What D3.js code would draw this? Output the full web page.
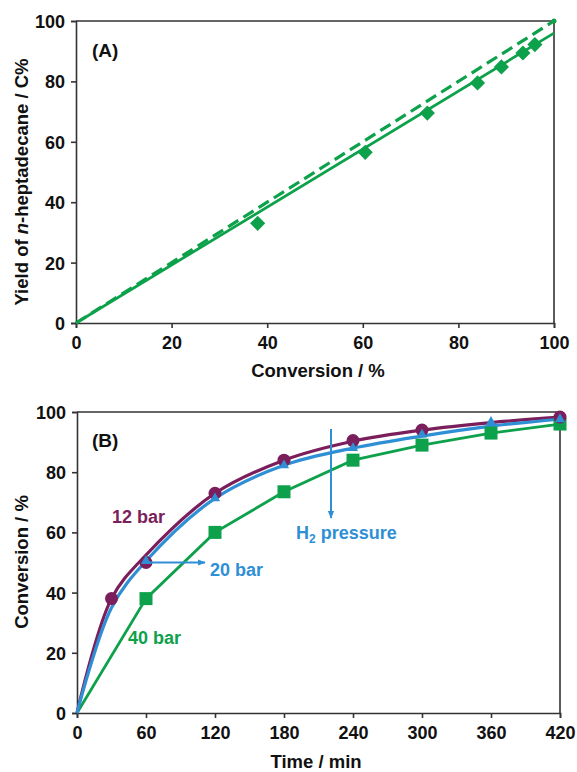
<!DOCTYPE html>
<html>
<head>
<meta charset="utf-8">
<script src="https://cdn.jsdelivr.net/npm/d3@7"></script>
<style>
  body { margin: 0; background: #fff; }
  text { font-family: "Liberation Sans", Arial, sans-serif; font-weight: bold; }
</style>
</head>
<body>
<div id="chart"></div>
<script>
// panel A data: conversion (%) vs yield (C%)
var convA = [38, 60.5, 73.5, 84, 89, 93.5, 96];
var yieldA = [33, 56.5, 69.5, 79.5, 84.8, 89.4, 92.2];
var fitA = [[0, 0], [100, 96]];     // solid fit line
var idealA = [[0, 0], [100, 100]];  // dashed 1:1 line
var ticksA = [0, 20, 40, 60, 80, 100];

// panel B data: time (min) vs conversion (%)
var time12 = [30, 60, 120, 180, 240, 300, 420];
var conv12 = [38, 50, 73, 84, 90.5, 94, 98.3];
var time20 = [60, 120, 180, 240, 300, 360, 420];
var conv20 = [50.5, 71.3, 82.3, 88, 92.5, 96.7, 97.6];
var time40 = [60, 120, 180, 240, 300, 360, 420];
var conv40 = [38, 60, 73.5, 84, 89, 93, 96];
// fitted curves
var fitTime = [0, 30, 60, 120, 180, 240, 300, 360, 420];
var fit12 = [0, 38, 52.5, 73, 84, 90.3, 94, 96.5, 98.3];
var fit20 = [0, 35, 50.5, 71.3, 82.3, 88, 92, 95.3, 97.6];
var fitTime40 = [0, 60, 120, 180, 240, 300, 360, 420];
var fit40 = [0, 38, 60, 73.5, 84, 89, 93, 96];
var ticksBx = [0, 60, 120, 180, 240, 300, 360, 420];
var ticksBy = [0, 20, 40, 60, 80, 100];

var green = "#0ea14b", purple = "#7b1f5c", blue = "#2f8fd5", axisCol = "#333";

var svg = d3.select("#chart").append("svg")
  .attr("width", 577).attr("height", 772);

var defs = svg.append("defs");
defs.append("marker").attr("id", "arr").attr("viewBox", "0 0 10 10")
  .attr("refX", 9).attr("refY", 5).attr("markerWidth", 4).attr("markerHeight", 4)
  .attr("orient", "auto")
  .append("path").attr("d", "M0,1 L10,5 L0,9 z").attr("fill", blue);

function drawAxes(x, y, xt, yt) {
  var r = x.range(), b = y.range();
  svg.append("g").attr("transform", "translate(0," + b[0] + ")")
    .call(d3.axisBottom(x).tickValues(xt).tickSize(5).tickPadding(8))
    .call(g => g.selectAll("text").style("font-size", "18px").attr("fill", "#111"));
  svg.append("g").attr("transform", "translate(" + r[0] + ",0)")
    .call(d3.axisLeft(y).tickValues(yt).tickSize(5).tickPadding(6))
    .call(g => g.selectAll("text").style("font-size", "18px").attr("fill", "#111").attr("dy", "0.36em"));
  svg.selectAll(".domain, .tick line").attr("stroke", axisCol).attr("stroke-width", 1.6);
  // top and right frame
  svg.append("path")
    .attr("d", "M" + r[0] + "," + b[1] + "H" + r[1] + "V" + b[0])
    .attr("fill", "none").attr("stroke", axisCol).attr("stroke-width", 1.6);
}

// PANEL A
var xA = d3.scaleLinear().domain([0, 100]).range([76, 554]);
var yA = d3.scaleLinear().domain([0, 100]).range([323, 21]);
drawAxes(xA, yA, ticksA, ticksA);

var lineA = d3.line().x(d => xA(d[0])).y(d => yA(d[1]));
svg.append("path").attr("d", lineA(idealA)).attr("fill", "none")
  .attr("stroke", green).attr("stroke-width", 3.2).attr("stroke-dasharray", "12,6");
svg.append("path").attr("d", lineA(fitA)).attr("fill", "none")
  .attr("stroke", green).attr("stroke-width", 2.8);
svg.append("g").selectAll("path").data(convA).join("path")
  .attr("d", d3.symbol().type(d3.symbolSquare).size(115))
  .attr("transform", (d, i) => "translate(" + xA(d) + "," + yA(yieldA[i]) + ") rotate(45)")
  .attr("fill", green);
svg.append("circle").attr("cx", xA(100)).attr("cy", yA(100)).attr("r", 2.5).attr("fill", green);

svg.append("text").attr("x", 92).attr("y", 57).style("font-size", "19px").attr("fill", "#111").text("(A)");
svg.append("text").attr("x", 318).attr("y", 377).attr("text-anchor", "middle")
  .style("font-size", "18.5px").attr("fill", "#111").text("Conversion / %");
var ylA = svg.append("text").attr("transform", "translate(28,182) rotate(-90)")
  .attr("text-anchor", "middle").style("font-size", "18.5px").attr("fill", "#111");
ylA.append("tspan").text("Yield of ");
ylA.append("tspan").style("font-style", "italic").text("n");
ylA.append("tspan").text("-heptadecane / C%");

// PANEL B
var xB = d3.scaleLinear().domain([0, 420]).range([77, 560]);
var yB = d3.scaleLinear().domain([0, 100]).range([713, 412]);
drawAxes(xB, yB, ticksBx, ticksBy);

function lineB(ts, vs, curve) {
  return d3.line().curve(curve).x((d, i) => xB(ts[i])).y((d, i) => yB(vs[i]))(ts);
}
svg.append("path").attr("d", lineB(fitTime40, fit40, d3.curveLinear)).attr("fill", "none")
  .attr("stroke", green).attr("stroke-width", 2.8);
svg.append("path").attr("d", lineB(fitTime, fit12, d3.curveCatmullRom)).attr("fill", "none")
  .attr("stroke", purple).attr("stroke-width", 3.2);
svg.append("path").attr("d", lineB(fitTime, fit20, d3.curveCatmullRom)).attr("fill", "none")
  .attr("stroke", blue).attr("stroke-width", 3.2);

// markers
svg.append("g").selectAll("rect").data(time40).join("rect")
  .attr("x", d => xB(d) - 6.5).attr("y", (d, i) => yB(conv40[i]) - 6.5)
  .attr("width", 13).attr("height", 13).attr("fill", green);
svg.append("g").selectAll("circle").data(time12).join("circle")
  .attr("cx", d => xB(d)).attr("cy", (d, i) => yB(conv12[i])).attr("r", 6.5).attr("fill", purple);
svg.append("g").selectAll("path").data(time20).join("path")
  .attr("d", d3.symbol().type(d3.symbolTriangle).size(45))
  .attr("transform", (d, i) => "translate(" + xB(d) + "," + yB(conv20[i]) + ")")
  .attr("fill", blue);

// annotations
svg.append("text").attr("x", 92).attr("y", 447).style("font-size", "19px").attr("fill", "#111").text("(B)");
svg.append("text").attr("x", 112).attr("y", 523).style("font-size", "18px").attr("fill", purple).text("12 bar");
svg.append("text").attr("x", 210).attr("y", 576).style("font-size", "18px").attr("fill", blue).text("20 bar");
svg.append("text").attr("x", 128).attr("y", 644).style("font-size", "18px").attr("fill", green).text("40 bar");
var h2 = svg.append("text").attr("x", 296).attr("y", 539).style("font-size", "18px").attr("fill", blue);
h2.append("tspan").text("H");
h2.append("tspan").attr("dy", 4).style("font-size", "12px").text("2");
h2.append("tspan").attr("dy", -4).text(" pressure");

svg.append("line").attr("x1", xB(60)).attr("y1", yB(50)).attr("x2", 205).attr("y2", yB(50))
  .attr("stroke", blue).attr("stroke-width", 2).attr("marker-end", "url(#arr)");
svg.append("line").attr("x1", 331).attr("y1", 429).attr("x2", 331).attr("y2", 518)
  .attr("stroke", blue).attr("stroke-width", 2).attr("marker-end", "url(#arr)");

svg.append("text").attr("x", 316).attr("y", 768).attr("text-anchor", "middle")
  .style("font-size", "18.5px").attr("fill", "#111").text("Time / min");
svg.append("text").attr("transform", "translate(28,562) rotate(-90)")
  .attr("text-anchor", "middle").style("font-size", "18.5px").attr("fill", "#111").text("Conversion / %");
</script>
</body>
</html>
